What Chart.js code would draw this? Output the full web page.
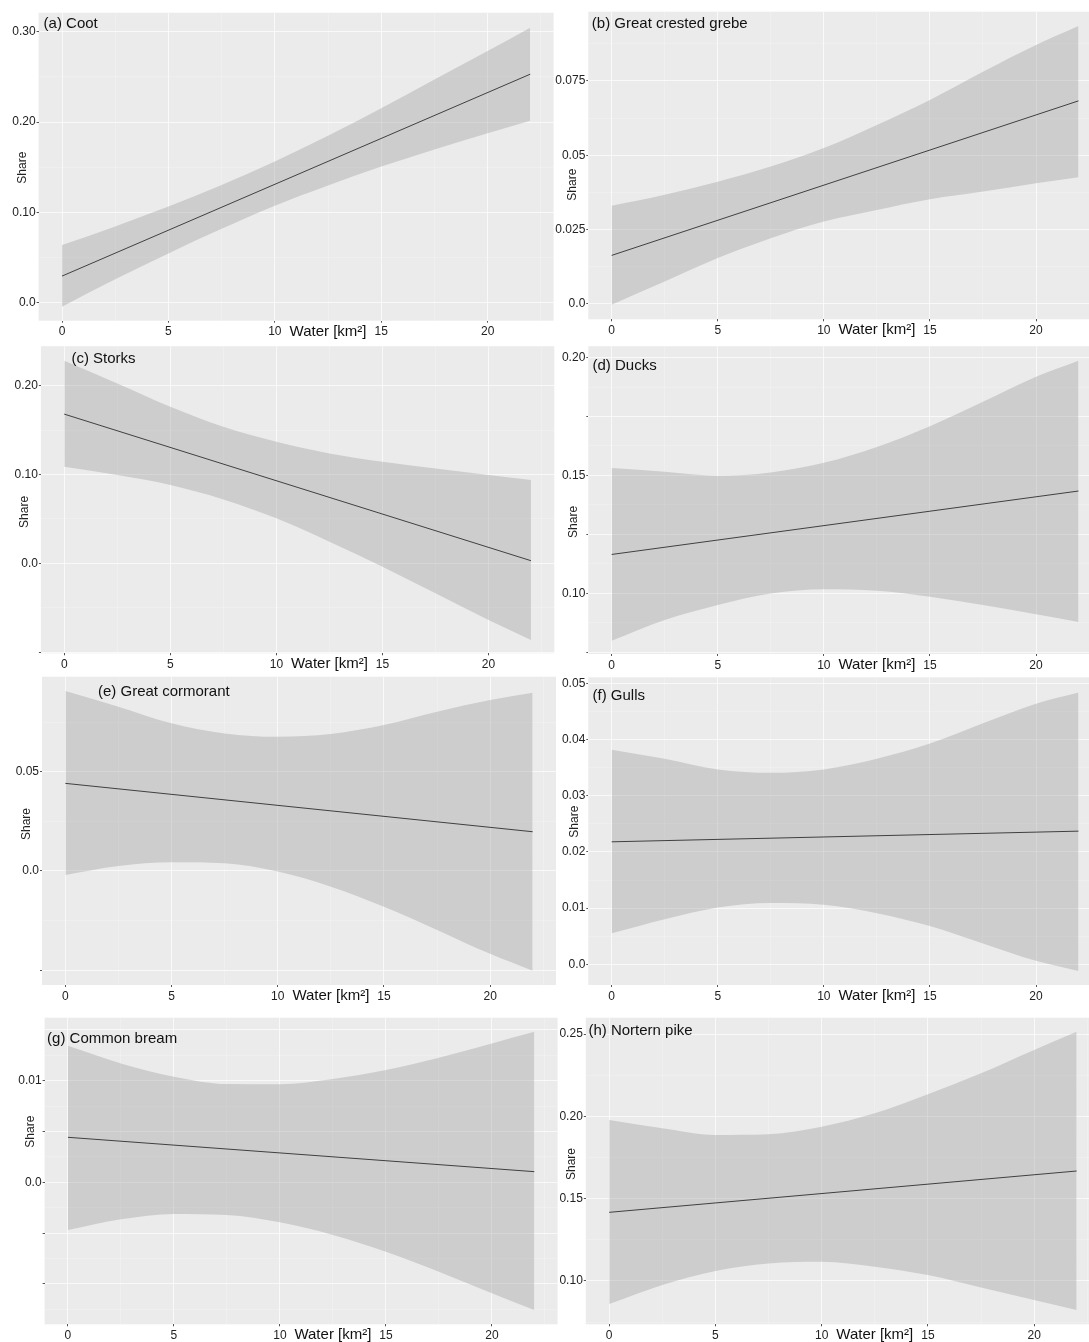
<!DOCTYPE html>
<html>
<head>
<meta charset="utf-8">
<script src="https://cdn.jsdelivr.net/npm/chart.js@4.4.1/dist/chart.umd.min.js"></script>
<style>
html, body { margin: 0; padding: 0; background: #ffffff; }
body { width: 1089px; height: 1342px; overflow: hidden; position: relative; }
canvas { position: absolute; }
</style>
</head>
<body>
<script>
// ---------------- DATA ----------------
const waterX = [0, 2.5, 5, 7.5, 10, 12.5, 15, 17.5, 20, 22];   // water area [km²] where the band is read
const fitX = [0, 22];                                          // ends of the fitted line
const xTickValues = [0, 5, 10, 15, 20];
const xTickLabels = ['0', '5', '10', '15', '20'];
const xTitle = 'Water [km²]';
const yTitle = 'Share';

// (a) Coot
const cootFit   = [0.0295, 0.2531];
const cootUpper = [0.0638, 0.0845, 0.1065, 0.1305, 0.1565, 0.1850, 0.2154, 0.2473, 0.2787, 0.3044];
const cootLower = [-0.0044, 0.0260, 0.0546, 0.0818, 0.1074, 0.1298, 0.1508, 0.1698, 0.1877, 0.2015];
const cootYTicks  = [0, 0.1, 0.2, 0.3];
const cootYLabels = ['0.0', '0.10', '0.20', '0.30'];

// (b) Great crested grebe
const grebeFit   = [0.0163, 0.0683];
const grebeUpper = [0.0330, 0.0367, 0.0411, 0.0462, 0.0524, 0.0602, 0.0686, 0.0781, 0.0871, 0.0935];
const grebeLower = [-0.0003, 0.0075, 0.0154, 0.0221, 0.0277, 0.0316, 0.0352, 0.0378, 0.0406, 0.0426];
const grebeYTicks  = [0, 0.025, 0.05, 0.075];
const grebeYLabels = ['0.0', '0.025', '0.05', '0.075'];

// (c) Storks
const storksFit   = [0.1681, 0.0030];
const storksUpper = [0.2281, 0.2026, 0.1764, 0.1538, 0.1370, 0.1238, 0.1144, 0.1069, 0.0994, 0.0938];
const storksLower = [0.1088, 0.0994, 0.0882, 0.0720, 0.0507, 0.0244, -0.0038, -0.0338, -0.0638, -0.0863];
const storksYTicks  = [-0.1, 0, 0.1, 0.2];
const storksYLabels = ['', '0.0', '0.10', '0.20'];

// (d) Ducks
const ducksFit   = [0.1165, 0.1434];
const ducksUpper = [0.1532, 0.1516, 0.1499, 0.1513, 0.1554, 0.1621, 0.1709, 0.1812, 0.1918, 0.1986];
const ducksLower = [0.0799, 0.0887, 0.0951, 0.1000, 0.1018, 0.1011, 0.0986, 0.0951, 0.0912, 0.0879];
const ducksYTicks  = [0.075, 0.1, 0.125, 0.15, 0.175, 0.2];
const ducksYLabels = ['', '0.10', '', '0.15', '', '0.20'];

// (e) Great cormorant
const cormorantFit   = [0.0442, 0.0198];
const cormorantUpper = [0.0908, 0.0829, 0.0745, 0.0694, 0.0677, 0.0691, 0.0736, 0.0803, 0.0862, 0.0899];
const cormorantLower = [-0.0020, 0.0025, 0.0044, 0.0039, -0.0003, -0.0079, -0.0180, -0.0297, -0.0418, -0.0503];
const cormorantYTicks  = [-0.05, 0, 0.05];
const cormorantYLabels = ['', '0.0', '0.05'];

// (f) Gulls
const gullsFit   = [0.0218, 0.0237];
const gullsUpper = [0.0382, 0.0366, 0.0347, 0.0341, 0.0347, 0.0366, 0.0393, 0.0429, 0.0464, 0.0484];
const gullsLower = [0.0055, 0.0080, 0.0101, 0.0109, 0.0106, 0.0091, 0.0068, 0.0037, 0.0006, -0.0012];
const gullsYTicks  = [0, 0.01, 0.02, 0.03, 0.04, 0.05];
const gullsYLabels = ['0.0', '0.01', '0.02', '0.03', '0.04', '0.05'];

// (g) Common bream
const breamFit   = [0.00443, 0.00105];
const breamUpper = [0.01344, 0.01170, 0.01040, 0.00967, 0.00964, 0.01016, 0.01105, 0.01226, 0.01367, 0.01482];
const breamLower = [-0.00469, -0.00364, -0.00311, -0.00321, -0.00393, -0.00518, -0.00682, -0.00879, -0.01092, -0.01256];
const breamYTicks  = [-0.01, -0.005, 0, 0.005, 0.01];
const breamYLabels = ['', '', '0.0', '', '0.01'];

// (h) Nortern pike
const pikeFit   = [0.1417, 0.1668];
const pikeUpper = [0.1978, 0.1927, 0.1887, 0.1891, 0.1937, 0.2018, 0.2134, 0.2261, 0.2403, 0.2514];
const pikeLower = [0.0860, 0.0976, 0.1061, 0.1107, 0.1117, 0.1087, 0.1036, 0.0960, 0.0885, 0.0824];
const pikeYTicks  = [0.1, 0.15, 0.2, 0.25];
const pikeYLabels = ['0.10', '0.15', '0.20', '0.25'];

// ---------------- LAYOUT / STYLE ----------------
const X_MIN = -1.1, X_MAX = 23.1, X_TITLE_AT = 12.5;
const FONT = '"Liberation Sans", Arial, Helvetica, sans-serif';
const PANEL_BG = '#EBEBEB';

const panels = [
  { title: '(a) Coot', fit: cootFit, up: cootUpper, lo: cootLower, yMin: -0.0199, yMax: 0.3212,
    yTicks: cootYTicks, yLabels: cootYLabels, area: [38.6, 12.7, 553.6, 320.7], titleAt: [5, 11.5], shareAt: [-15.6, 155] },
  { title: '(b) Great crested grebe', fit: grebeFit, up: grebeUpper, lo: grebeLower, yMin: -0.0052, yMax: 0.0983,
    yTicks: grebeYTicks, yLabels: grebeYLabels, area: [588.3, 11.7, 1101.8, 319.3], titleAt: [3.5, 12.3], shareAt: [-15.6, 173] },
  { title: '(c) Storks', fit: storksFit, up: storksUpper, lo: storksLower, yMin: -0.1013, yMax: 0.2446,
    yTicks: storksYTicks, yLabels: storksYLabels, area: [40.9, 346, 554.3, 653.3], titleAt: [30.5, 12.3], shareAt: [-16.6, 165.7] },
  { title: '(d) Ducks', fit: ducksFit, up: ducksUpper, lo: ducksLower, yMin: 0.0743, yMax: 0.2048,
    yTicks: ducksYTicks, yLabels: ducksYLabels, area: [588.3, 346, 1101.8, 654], titleAt: [4.2, 20], shareAt: [-14.8, 175.7] },
  { title: '(e) Great cormorant', fit: cormorantFit, up: cormorantUpper, lo: cormorantLower, yMin: -0.0575, yMax: 0.0980,
    yTicks: cormorantYTicks, yLabels: cormorantYLabels, area: [42.0, 676.7, 556.0, 985], titleAt: [56, 15], shareAt: [-15.2, 147.3] },
  { title: '(f) Gulls', fit: gullsFit, up: gullsUpper, lo: gullsLower, yMin: -0.0037, yMax: 0.0511,
    yTicks: gullsYTicks, yLabels: gullsYLabels, area: [588.3, 677.3, 1101.8, 985], titleAt: [4.2, 18.7], shareAt: [-13.8, 144.4] },
  { title: '(g) Common bream', fit: breamFit, up: breamUpper, lo: breamLower, yMin: -0.01397, yMax: 0.0162,
    yTicks: breamYTicks, yLabels: breamYLabels, area: [44.6, 1017.7, 557.6, 1324.3], titleAt: [2.5, 21.6], shareAt: [-14.2, 114] },
  { title: '(h) Nortern pike', fit: pikeFit, up: pikeUpper, lo: pikeLower, yMin: 0.0737, yMax: 0.2599,
    yTicks: pikeYTicks, yLabels: pikeYLabels, area: [585.8, 1017.7, 1100.0, 1324.3], titleAt: [2.6, 13.3], shareAt: [-13.8, 146.3] }
];

// Build major + minor tick objects (minor = midway, as in ggplot's grid)
function buildTicks(values, labels, min, max) {
  const out = [];
  values.forEach((v, i) => out.push({ value: v, lab: labels[i], minor: false }));
  const step = values[1] - values[0];
  let m = values[0] - step / 2;
  while (m <= max + 1e-12) {
    if (m >= min) {
      const isMajorGrid = values.some(v => Math.abs(v - m) < 1e-9);
      if (!isMajorGrid) out.push({ value: m, lab: '', minor: true });
    }
    m += step / 2;
  }
  // extra major-style grid lines beyond the labelled range (no tick mark)
  out.forEach(t => {
    if (t.minor) {
      const k = Math.round((t.value - values[0]) / step * 2);
      if (k % 2 === 0) { t.minor = false; t.gridOnly = true; }
    }
  });
  out.sort((a, b) => a.value - b.value);
  return out;
}

const panelDecor = {
  id: 'panelDecor',
  beforeDraw(chart) {
    const { ctx, chartArea: a } = chart;
    ctx.save();
    ctx.fillStyle = PANEL_BG;
    ctx.fillRect(a.left, a.top, a.right - a.left, a.bottom - a.top);
    ctx.restore();
  },
  afterDraw(chart, args, opts) {
    const { ctx, chartArea: a, scales } = chart;
    ctx.save();
    ctx.fillStyle = '#111';
    ctx.textBaseline = 'middle';
    ctx.textAlign = 'left';
    ctx.font = '15px ' + FONT;
    ctx.fillText(opts.title, a.left + opts.titleAt[0], a.top + opts.titleAt[1]);
    ctx.textAlign = 'center';
    ctx.font = '15px ' + FONT;
    ctx.fillText(xTitle, scales.x.getPixelForValue(X_TITLE_AT), a.bottom + 11);
    ctx.translate(a.left + opts.shareAt[0], a.top + opts.shareAt[1]);
    ctx.rotate(-Math.PI / 2);
    ctx.font = '12px ' + FONT;
    ctx.fillStyle = '#222';
    ctx.fillText(yTitle, 0, 0);
    ctx.restore();
  }
};

const gridColor = (ctx) => (ctx.tick && ctx.tick.minor) ? 'rgba(255,255,255,0.40)' : 'rgba(255,255,255,0.70)';
const gridWidth = (ctx) => (ctx.tick && ctx.tick.minor) ? 0.6 : 1.0;
const tickColor = (ctx) => (ctx.tick && !ctx.tick.minor && !ctx.tick.gridOnly) ? '#555' : 'rgba(0,0,0,0)';

panels.forEach((p) => {
  const [L, T, R, B] = p.area;
  const cl = Math.floor(L) - 38, ct = Math.floor(T) - 8;
  const cw = Math.ceil(R) + 2 - cl, ch = Math.ceil(B) + 26 - ct;
  const yAxisW = L - cl, padTop = T - ct, padRight = cl + cw - R, xAxisH = ct + ch - B;

  const cv = document.createElement('canvas');
  cv.width = cw; cv.height = ch;
  cv.style.left = cl + 'px'; cv.style.top = ct + 'px';
  cv.style.width = cw + 'px'; cv.style.height = ch + 'px';
  document.body.appendChild(cv);

  const fitPts = fitX.map((x, i) => ({ x, y: p.fit[i] }));
  const upPts = waterX.map((x, i) => ({ x, y: p.up[i] }));
  const loPts = waterX.map((x, i) => ({ x, y: p.lo[i] }));
  const xTicks = buildTicks(xTickValues, xTickLabels, X_MIN, X_MAX);
  const yTicks = buildTicks(p.yTicks, p.yLabels, p.yMin, p.yMax);

  new Chart(cv, {
    type: 'line',
    data: {
      datasets: [
        { label: 'fit', data: fitPts, borderColor: '#404040', borderWidth: 1, pointRadius: 0, fill: false, tension: 0 },
        { label: 'upper', data: upPts, borderWidth: 0, borderColor: 'rgba(0,0,0,0)', pointRadius: 0,
          cubicInterpolationMode: 'monotone', fill: '+1', backgroundColor: 'rgba(153,153,153,0.36)' },
        { label: 'lower', data: loPts, borderWidth: 0, borderColor: 'rgba(0,0,0,0)', pointRadius: 0,
          cubicInterpolationMode: 'monotone', fill: false }
      ]
    },
    options: {
      responsive: false,
      animation: false,
      devicePixelRatio: 1,
      layout: { padding: { left: 0, top: padTop, right: padRight, bottom: 0 } },
      plugins: {
        legend: { display: false },
        tooltip: { enabled: false },
        panelDecor: { title: p.title, titleAt: p.titleAt, shareAt: p.shareAt }
      },
      scales: {
        x: {
          type: 'linear', min: X_MIN, max: X_MAX,
          afterBuildTicks: (s) => { s.ticks = xTicks.map(t => Object.assign({}, t)); },
          afterFit: (s) => { s.height = xAxisH; },
          ticks: { autoSkip: false, maxRotation: 0, padding: 2, color: '#222',
                   font: { family: FONT, size: 12 }, callback: (v, i, ts) => ts[i].lab },
          grid: { color: gridColor, lineWidth: gridWidth, tickColor: tickColor, tickLength: 2, drawTicks: true },
          border: { display: false }
        },
        y: {
          type: 'linear', min: p.yMin, max: p.yMax,
          afterBuildTicks: (s) => { s.ticks = yTicks.map(t => Object.assign({}, t)); },
          afterFit: (s) => { s.width = yAxisW; },
          ticks: { autoSkip: false, padding: 1, color: '#222',
                   font: { family: FONT, size: 12 }, callback: (v, i, ts) => ts[i].lab },
          grid: { color: gridColor, lineWidth: gridWidth, tickColor: tickColor, tickLength: 2, drawTicks: true },
          border: { display: false }
        }
      }
    },
    plugins: [panelDecor]
  });
});
</script>
</body>
</html>
